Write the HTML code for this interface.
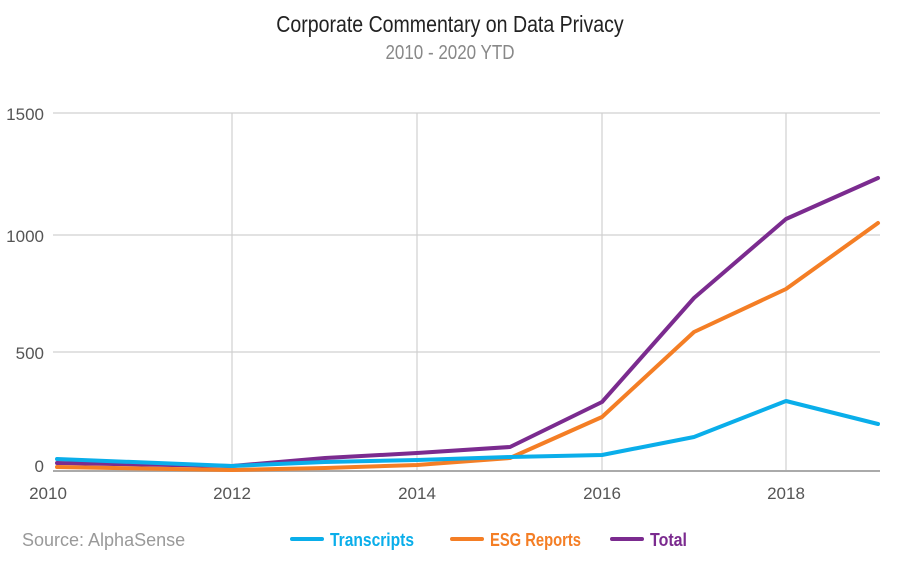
<!DOCTYPE html>
<html><head><meta charset="utf-8"><style>
body{margin:0;background:#fff;width:900px;height:566px;overflow:hidden}
</style></head><body>
<svg width="900" height="566" xmlns="http://www.w3.org/2000/svg" font-family="Liberation Sans, sans-serif">
<text x="450" y="32" text-anchor="middle" font-size="23" fill="#222" transform="translate(450 0) scale(0.85 1) translate(-450 0)">Corporate Commentary on Data Privacy</text>
<text x="450" y="59" text-anchor="middle" font-size="20" fill="#888" transform="translate(450 0) scale(0.85 1) translate(-450 0)">2010 - 2020 YTD</text>
<g stroke="#d0d0d0" stroke-width="1.2">
<line x1="53" y1="113" x2="880" y2="113"/>
<line x1="53" y1="235" x2="880" y2="235"/>
<line x1="53" y1="352" x2="880" y2="352"/>
<line x1="232" y1="113" x2="232" y2="471"/>
<line x1="417" y1="113" x2="417" y2="471"/>
<line x1="602" y1="113" x2="602" y2="471"/>
<line x1="786" y1="113" x2="786" y2="471"/>
</g>
<line x1="53" y1="471" x2="880" y2="471" stroke="#aaa" stroke-width="2"/>
<g font-size="17" fill="#555" text-anchor="end">
<text x="44" y="120">1500</text><text x="44" y="242">1000</text><text x="44" y="359">500</text><text x="44" y="472">0</text>
</g>
<g font-size="17" fill="#555" text-anchor="middle">
<text x="48" y="499">2010</text><text x="232" y="499">2012</text><text x="417" y="499">2014</text><text x="602" y="499">2016</text><text x="786" y="499">2018</text>
</g>
<g fill="none" stroke-width="4" stroke-linejoin="round" stroke-linecap="round">
<polyline stroke="#7b2b8f" points="57,463 232,466 325,458 417,453 510,447 602,402 694,298 786,219 878,178"/>
<polyline stroke="#f47e25" points="57,467 232,470 325,468 417,465 510,458 602,417 694,332 786,289 878,223"/>
<polyline stroke="#0aaeea" points="57,459 232,466 325,462 417,460 510,457 602,455 694,437 786,401 878,424"/>
</g>
<text x="22" y="546" font-size="18" fill="#999">Source: AlphaSense</text>
<g font-size="18" font-weight="bold">
<line x1="292" y1="539" x2="322" y2="539" stroke="#0aaeea" stroke-width="4" stroke-linecap="round"/>
<text x="330" y="546" fill="#0aaeea" textLength="84" lengthAdjust="spacingAndGlyphs">Transcripts</text>
<line x1="452" y1="539" x2="482" y2="539" stroke="#f47e25" stroke-width="4" stroke-linecap="round"/>
<text x="490" y="546" fill="#f47e25" textLength="91" lengthAdjust="spacingAndGlyphs">ESG Reports</text>
<line x1="612" y1="539" x2="642" y2="539" stroke="#7b2b8f" stroke-width="4" stroke-linecap="round"/>
<text x="650" y="546" fill="#7b2b8f" textLength="37" lengthAdjust="spacingAndGlyphs">Total</text>
</g>
</svg>
</body></html>
